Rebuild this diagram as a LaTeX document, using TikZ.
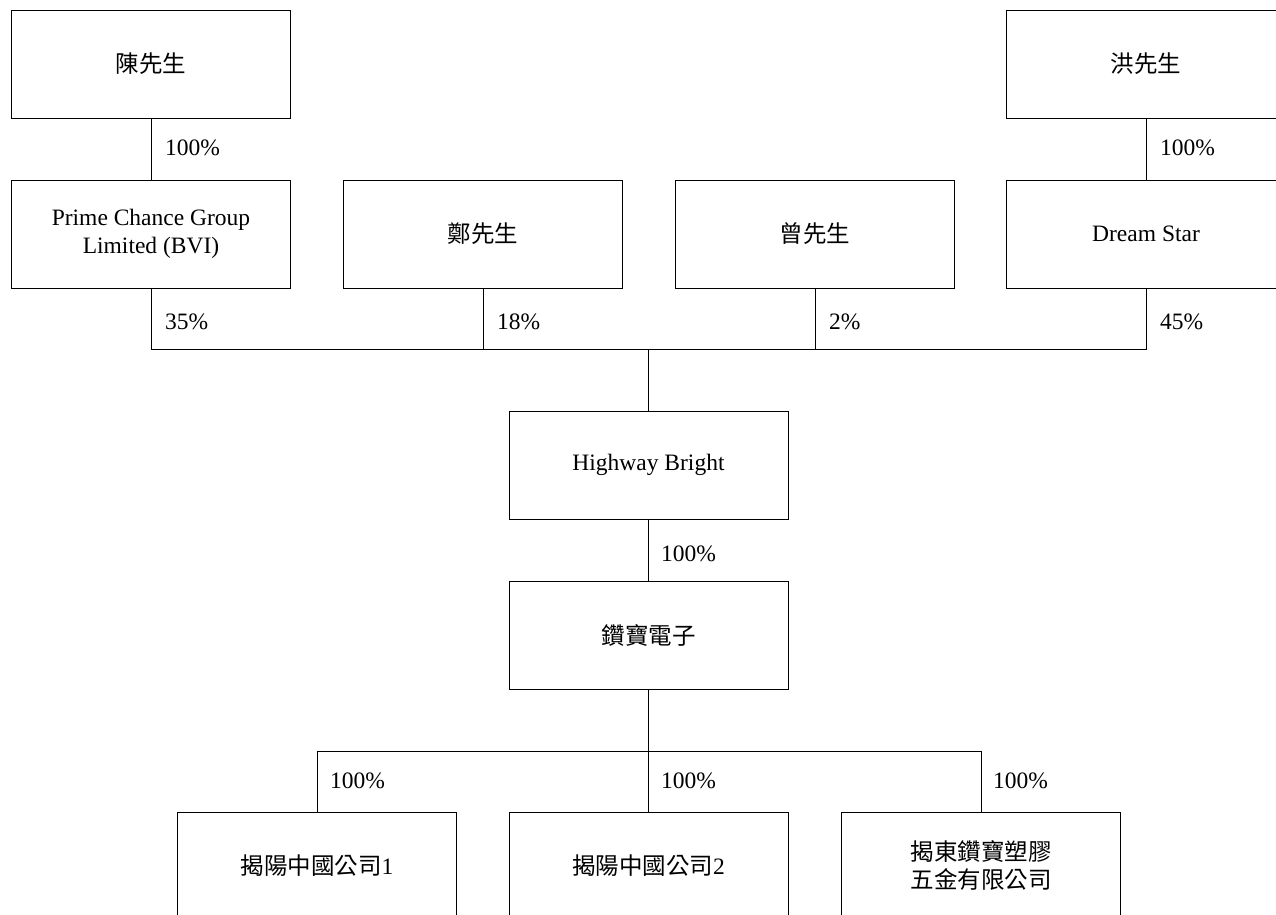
\documentclass[tikz,border=0pt]{standalone}
\usepackage{fontspec}
\setmainfont{Liberation Serif}
\newfontfamily\cjk{Noto Sans CJK TC}
\begin{document}
\begin{tikzpicture}[x=1pt,y=-1pt,
  box/.style={draw,line width=0.9pt,rectangle,minimum width=279pt,minimum height=108pt,inner sep=0pt,align=center,font=\fontsize{23.5}{28}\selectfont},
  pct/.style={anchor=west,inner sep=0pt,font=\fontsize{23.5}{28}\selectfont},
  conn/.style={line width=0.9pt}]
\useasboundingbox (0,0) rectangle (1276,914);
\clip (0,0) rectangle (1276,914);
% top row
\node[box] (chen) at (151,64) {{\cjk 陳先生}};
\node[box] (hong) at (1146,64) {{\cjk 洪先生}};
\node[box] (prime) at (151,234) {Prime Chance Group\\Limited (BVI)};
\node[box] (zheng) at (483,234) {{\cjk 鄭先生}};
\node[box] (zeng) at (815,234) {{\cjk 曾先生}};
\node[box] (dream) at (1146,234) {Dream Star};
\node[box] (hb) at (648.5,465) {Highway Bright};
\node[box] (zb) at (648.5,635) {{\cjk 鑽寶電子}};
\node[box] (b1) at (317,866) {{\cjk 揭陽中國公司}1};
\node[box] (b2) at (648.5,866) {{\cjk 揭陽中國公司}2};
\node[box] (b3) at (981,866) {{\cjk 揭東鑽寶塑膠}\\{\cjk 五金有限公司}};
\coordinate (bus) at (648.5,349);
\coordinate (bus2) at (648.5,751);
% connectors
\draw[conn] (chen.south) -- (prime.north);
\draw[conn] (hong.south) -- (dream.north);
\draw[conn] (prime.south) |- (bus) -| (dream.south);
\draw[conn] (zheng.south) -- (zheng.south |- bus);
\draw[conn] (zeng.south) -- (zeng.south |- bus);
\draw[conn] (bus) -- (hb.north);
\draw[conn] (hb.south) -- (zb.north);
\draw[conn] (zb.south) -- (bus2);
\draw[conn] (b1.north) |- (bus2) -| (b3.north);
\draw[conn] (bus2) -- (b2.north);
% labels
\node[pct] (l1) at (165,148) {100\%};
\node[pct] (l2) at (1160,148) {100\%};
\node[pct] (l3) at (165,322) {35\%};
\node[pct] (l4) at (497,322) {18\%};
\node[pct] (l5) at (829,322) {2\%};
\node[pct] (l6) at (1160,322) {45\%};
\node[pct] (l7) at (661,554) {100\%};
\node[pct] (l8) at (330,781) {100\%};
\node[pct] (l9) at (661,781) {100\%};
\node[pct] (l10) at (993,781) {100\%};
\end{tikzpicture}
\end{document}
